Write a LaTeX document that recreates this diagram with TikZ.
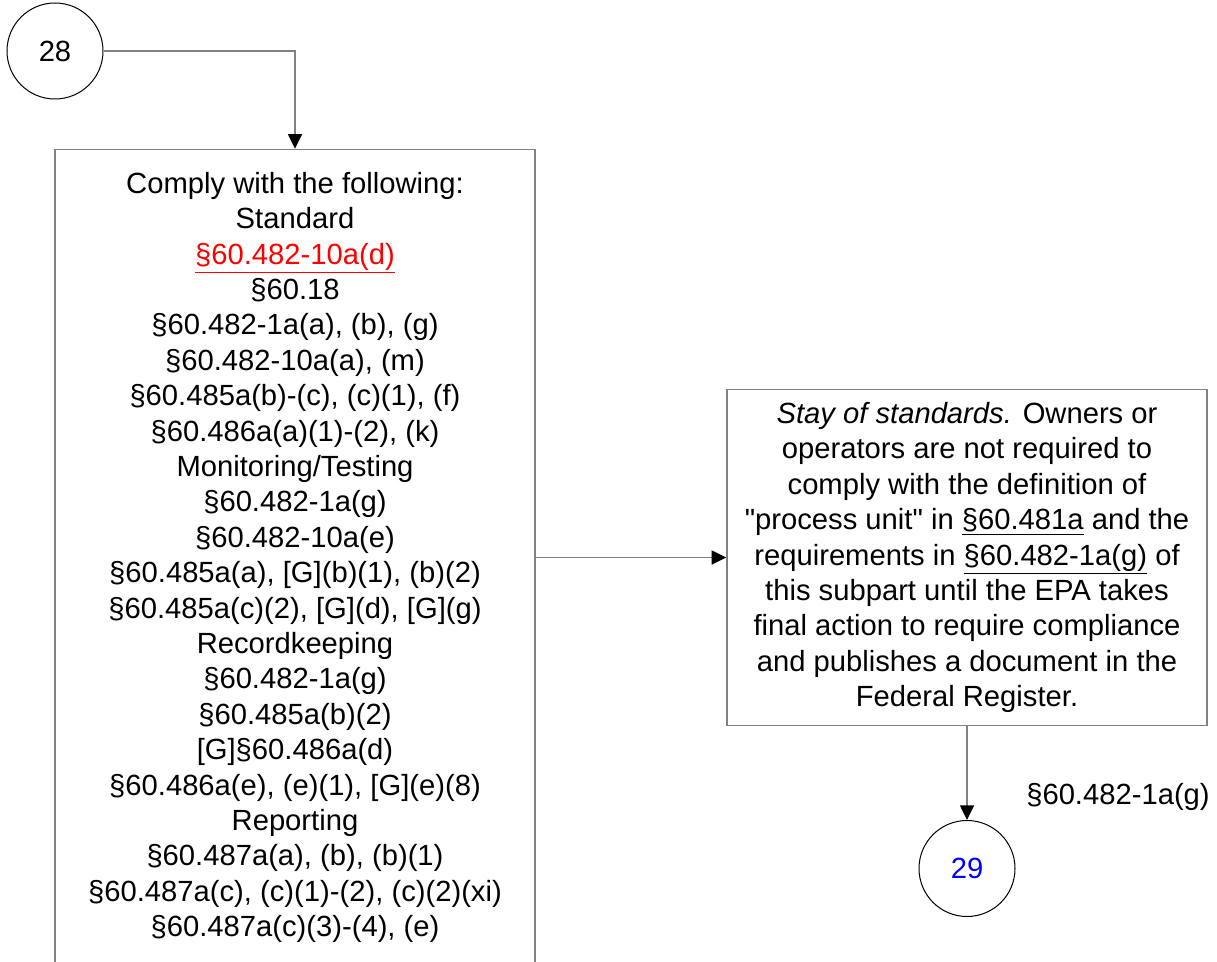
\documentclass[tikz,border=0pt]{standalone}
\usepackage{fontspec}
\setmainfont{Liberation Sans}[Ligatures=TeXOff]
\usetikzlibrary{arrows.meta}
\definecolor{linegray}{RGB}{128,128,128}
\definecolor{refred}{RGB}{255,0,0}
\definecolor{refblue}{RGB}{0,0,255}
\tikzset{
  txt/.style={font=\fontsize{21.9pt}{26.55pt}\selectfont, align=center},
  termcircle/.style={txt, circle, draw=black, line width=0.75pt, minimum size=72pt, inner sep=0pt},
  stepbox/.style={txt, rectangle, draw=linegray, line width=1.1pt, minimum width=360pt, inner sep=0pt},
  conn/.style={draw=linegray, line width=1.1pt, -{Triangle[length=11pt, width=10.5pt, color=black, fill=black]}},
}
\begin{document}
\begin{tikzpicture}[x=0.75pt, y=-0.75pt]
\useasboundingbox (0,0) rectangle (1217,962);
\clip (0,0) rectangle (1217,962);
\fill[white] (0,0) rectangle (1217,962);

% off-page connectors
\node[termcircle] (c28) at (55,51) {28};
\node[termcircle, text=refblue] (c29) at (967,868.5) {29};

% list of applicable sections
\node[stepbox, minimum height=612pt] (std) at (295,557.5) {%
Comply with the following:\\
Standard\\
{\color{refred}\underline{§60.482-10a(d)}}\\
§60.18\\
§60.482-1a(a), (b), (g)\\
§60.482-10a(a), (m)\\
§60.485a(b)-(c), (c)(1), (f)\\
§60.486a(a)(1)-(2), (k)\\
Monitoring/Testing\\
§60.482-1a(g)\\
§60.482-10a(e)\\
§60.485a(a), [G](b)(1), (b)(2)\\
§60.485a(c)(2), [G](d), [G](g)\\
Recordkeeping\\
§60.482-1a(g)\\
§60.485a(b)(2)\\
{[G]}§60.486a(d)\\
§60.486a(e), (e)(1), [G](e)(8)\\
Reporting\\
§60.487a(a), (b), (b)(1)\\
§60.487a(c), (c)(1)-(2), (c)(2)(xi)\\
§60.487a(c)(3)-(4), (e)};

% stay of standards
\node[stepbox, minimum height=252pt] (stay) at (967,557.5) {%
{\itshape Stay of standards.} Owners or\\
operators are not required to\\
comply with the definition of\\
"process unit" in \underline{§60.481a} and the\\
requirements in \underline{§60.482-1a(g)} of\\
this subpart until the EPA takes\\
final action to require compliance\\
and publishes a document in the\\
Federal Register.};

\node[txt] (lbl) at (1118,797) {§60.482-1a(g)};

% connectors
\draw[conn] (c28.east) -| (std.north);
\draw[conn] (std.east) -- (stay.west);
\draw[conn] (stay.south) -- (c29.north);
\end{tikzpicture}
\end{document}
